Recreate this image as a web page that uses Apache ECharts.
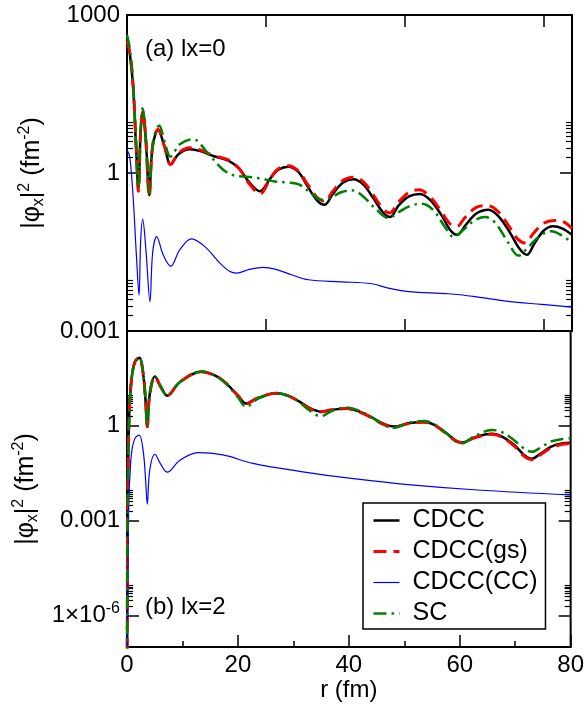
<!DOCTYPE html>
<html><head><meta charset="utf-8">
<script src="https://cdn.jsdelivr.net/npm/echarts@6/dist/echarts.min.js"></script>
<style>html,body{margin:0;padding:0;background:#fff}#c{width:587px;height:709px}</style>
</head><body><div id="c"></div>
<script>
// ---------- data (r in fm, |phi_x|^2 in fm^-2) ----------
const seriesNames = ['CDCC', 'CDCC(gs)', 'CDCC(CC)', 'SC'];
const panelLabels = ['(a) lx=0', '(b) lx=2'];

// panel (a) lx=0
const a_CDCC = [[0,330],[0.5,186],[1.1,44],[1.6,3.7],[2.05,0.5],[2.45,6],[2.85,14.7],[3.4,4],[4.0,0.38],[4.6,3.2],[5.6,6.6],[6.7,3.3],[7.85,1.47],[9.3,2.3],[11.3,2.83],[13.2,2.6],[15.5,2.1],[18.3,1.7],[20.2,1.2],[21.8,0.7],[23.9,0.45],[25.8,0.8],[27.2,1.15],[29.0,1.32],[30.8,1.05],[32.5,0.55],[34.2,0.3],[35.5,0.25],[37,0.4],[38.8,0.65],[40.7,0.76],[42.5,0.6],[44.3,0.33],[46,0.18],[47.3,0.146],[48.8,0.24],[50.7,0.36],[52.7,0.40],[54.6,0.3],[56.5,0.16],[58.2,0.08],[59.4,0.067],[60.8,0.1],[62.8,0.17],[65.0,0.20],[66.8,0.15],[68.8,0.075],[70.6,0.036],[71.9,0.028],[73.2,0.045],[74.9,0.08],[76.6,0.097],[78.3,0.088],[80,0.067]];
const a_CDCCgs = [[0,330],[0.5,190],[1.1,46],[1.6,3.9],[2.05,0.45],[2.45,6],[2.85,15],[3.4,4],[4.0,0.36],[4.6,3.2],[5.6,6.8],[6.7,3.3],[7.85,1.45],[9.3,2.4],[11.3,3.0],[13.2,2.75],[15.5,2.15],[18.3,1.75],[20.2,1.2],[21.8,0.66],[23.9,0.40],[25.8,0.8],[27.2,1.2],[29.0,1.38],[30.8,1.1],[32.5,0.6],[34.2,0.34],[35.5,0.29],[37,0.45],[38.8,0.72],[40.7,0.83],[42.5,0.68],[44.3,0.38],[46,0.21],[47.2,0.174],[48.8,0.28],[50.7,0.43],[52.5,0.48],[54.4,0.36],[56.3,0.2],[58,0.11],[59.3,0.097],[60.7,0.14],[62.7,0.22],[64.8,0.24],[66.6,0.19],[68.6,0.1],[70.3,0.055],[71.6,0.047],[73,0.07],[74.8,0.11],[76.8,0.126],[78.5,0.118],[80,0.089]];
const a_CDCCcc = [[0,2.8],[0.5,2.0],[1.1,0.35],[1.7,0.026],[2.16,0.0048],[2.45,0.05],[2.82,0.133],[3.4,0.035],[4.13,0.0036],[4.6,0.03],[5.33,0.062],[6.5,0.028],[7.85,0.017],[9.5,0.035],[11.6,0.056],[14,0.04],[16.7,0.0195],[18.5,0.0135],[19.7,0.0126],[22,0.0148],[24.5,0.0162],[26.6,0.0150],[29.6,0.0117],[32.6,0.0094],[38.6,0.0086],[44,0.0079],[47,0.0065],[50.6,0.0056],[57.8,0.0051],[62.6,0.0045],[68.5,0.00365],[74.5,0.0032],[80,0.00285]];
const a_SC = [[0,420],[0.5,230],[1.1,52],[1.6,4.2],[2.05,0.55],[2.45,7],[2.8,17],[3.4,4.5],[4.0,0.42],[4.7,4],[5.8,8],[6.8,3.8],[7.8,2.05],[9.5,3.5],[11.9,4.4],[14.5,2.4],[17.3,1.15],[19.4,0.89],[21.5,0.85],[23.9,0.79],[26.6,0.69],[29,0.66],[31,0.6],[33,0.42],[35.0,0.31],[36.6,0.34],[38.5,0.43],[40.4,0.47],[42.2,0.38],[44.5,0.22],[47.0,0.139],[48.8,0.18],[51,0.24],[53.0,0.26],[55,0.2],[57,0.1],[58.7,0.061],[60.3,0.08],[62.4,0.125],[64.4,0.146],[66.3,0.11],[68.4,0.05],[70.4,0.027],[72.2,0.04],[74.3,0.065],[76.3,0.078],[78.2,0.065],[80,0.048]];

// panel (b) lx=2
const b_CDCC = [[0,1e-9],[0.1,0.0005],[0.2,0.04],[0.42,2.8],[0.84,32],[1.44,107],[2.22,143],[2.94,41],[3.35,6],[3.66,0.93],[4.1,10],[5.03,36],[6.1,17],[7.25,9],[9.5,24],[13.4,51],[16,38],[17.9,22],[20,9],[21.5,5.1],[23.5,7.5],[26.9,10.7],[29,9],[31.1,5.8],[33,3.6],[34.9,2.8],[37,3.2],[39.5,3.55],[41.5,3],[44,1.9],[46.3,1.15],[48.2,0.95],[50.8,1.2],[53.6,1.32],[55.5,1.05],[57.5,0.6],[59.3,0.34],[60.5,0.295],[62.5,0.42],[65.8,0.56],[67.7,0.45],[69.8,0.25],[71.6,0.12],[73,0.091],[74.5,0.13],[76.5,0.22],[78.5,0.28],[80,0.29]];
const b_CDCCgs = [[0,1e-9],[0.1,0.0005],[0.2,0.04],[0.42,2.8],[0.84,32],[1.44,107],[2.22,143],[2.94,41],[3.35,6],[3.66,0.93],[4.1,10],[5.03,36],[6.1,17],[7.25,9],[9.5,24],[13.4,51],[16,38],[17.9,22],[20,9],[21.5,5.0],[23.5,7.5],[26.9,10.7],[29,9],[31.1,5.8],[33,3.5],[34.9,2.75],[37,3.2],[39.5,3.5],[41.5,2.9],[44,1.85],[46.3,1.1],[48.2,0.93],[50.8,1.18],[53.6,1.3],[55.5,1.02],[57.5,0.58],[59.3,0.33],[60.5,0.29],[62.5,0.41],[65.8,0.54],[67.7,0.43],[69.8,0.23],[71.6,0.11],[73,0.085],[74.5,0.12],[76.5,0.2],[78.5,0.26],[80,0.27]];
const b_CDCCcc = [[0,1e-9],[0.1,1e-6],[0.3,0.003],[0.54,0.028],[0.84,0.15],[1.44,0.40],[2.22,0.51],[2.94,0.15],[3.35,0.02],[3.66,0.0033],[4.1,0.04],[5.03,0.126],[6.1,0.06],[7.25,0.034],[9.5,0.08],[12.8,0.141],[17.3,0.12],[22.7,0.065],[31.7,0.035],[40.1,0.022],[51.2,0.0135],[63.2,0.0093],[80,0.0065]];
const b_SC = [[0,1e-9],[0.1,0.0005],[0.2,0.04],[0.42,2.8],[0.84,32],[1.44,107],[2.22,143],[2.94,41],[3.35,6],[3.66,0.93],[4.1,10],[5.03,36],[6.1,17],[7.25,9],[9.5,24],[13.4,52],[16,38],[17.9,21],[20,8],[21.5,4.0],[23.5,7],[26.9,10.8],[29,9],[31.1,5.5],[33,3],[34.9,2.0],[37,3.0],[39.5,3.8],[41.5,3.2],[44,1.9],[46.3,1.05],[48.2,0.87],[50.8,1.25],[53.6,1.41],[55.5,1.1],[57.5,0.6],[59.3,0.32],[60.5,0.28],[62.5,0.45],[65.8,0.74],[67.7,0.62],[69.8,0.35],[71.6,0.19],[73,0.15],[74.5,0.2],[76.5,0.32],[78.5,0.38],[80,0.40]];

// axes / ticks
const xRange = [0, 80];
const aYRange = [0.001, 1000];
const bYRange = [1e-7, 1000];
const aMajorExp = [-3, 0, 3];
const aMajorLabels = ['0.001', '1', '1000'];
const bMajorExp = [-6, -3, 0, 3];
const bMajorLabels = ['1×10{sup|-6}', '0.001', '1', ''];
const minorFactors = [2, 3, 4, 5, 6, 7, 8, 9];

// ---------- chart ----------
const FONT = 'Liberation Sans, Arial, Helvetica, sans-serif';
const minorExp = majors => majors.flatMap(m => minorFactors.map(k => m + Math.log10(k)));
const lg = Math.log10;

const chart = echarts.init(document.getElementById('c'), null, {renderer: 'canvas'});

const tickStyle = {color: '#000', width: 1.5};
const grids = [
  {left: 127, top: 15, width: 445, height: 316, show: true, borderColor: '#000', borderWidth: 2, backgroundColor: 'transparent'},
  {left: 127, top: 331, width: 445, height: 316, show: true, borderColor: '#000', borderWidth: 2, backgroundColor: 'transparent'}
];

function xAx(grid, pos, interval, showLabel, extra) {
  return Object.assign({
    type: 'value', gridIndex: grid, position: pos, min: xRange[0], max: xRange[1], interval: interval,
    axisLine: {show: false, onZero: false}, splitLine: {show: false},
    axisTick: {show: true, inside: true, length: 12, lineStyle: tickStyle},
    axisLabel: {show: showLabel, fontSize: 24, fontFamily: FONT, color: '#000', margin: 6, showMinLabel: true, showMaxLabel: true}
  }, extra || {});
}
const nameRich = {
  sub: {fontSize: 16, fontFamily: FONT, color: '#000', verticalAlign: 'bottom'},
  sup: {fontSize: 16, fontFamily: FONT, color: '#000', verticalAlign: 'top'}
};
// hidden log axis that carries the data
function yData(grid, range) {
  return {
    type: 'log', logBase: 10, gridIndex: grid, position: 'left', min: range[0], max: range[1],
    axisLine: {show: false, onZero: false}, splitLine: {show: false}, axisTick: {show: false}, axisLabel: {show: false}
  };
}
// decade-exponent axes for ticks and labels
function yMajor(grid, pos, range, majors, labels) {
  const o = {
    type: 'value', gridIndex: grid, position: pos, min: lg(range[0]), max: lg(range[1]),
    axisLine: {show: false, onZero: false}, splitLine: {show: false},
    axisTick: {show: true, inside: true, length: 12, lineStyle: tickStyle, customValues: majors},
    axisLabel: {show: !!labels, customValues: majors, fontSize: 24, fontFamily: FONT, color: '#000', margin: 7,
      lineHeight: 30, rich: {sup: {fontSize: 16, fontFamily: FONT, color: '#000', verticalAlign: 'top'}},
      formatter: v => { const i = majors.findIndex(m => Math.abs(m - v) < 1e-6); return (labels && i >= 0) ? labels[i] : ''; }
    }
  };
  if (labels) {
    Object.assign(o, {
      name: '|φ{sub|x}|{sup|2} (fm{sup|-2})', nameLocation: 'middle', nameRotate: 90, nameGap: 80,
      nameTextStyle: {fontSize: 25, fontFamily: FONT, color: '#000', lineHeight: 30, rich: nameRich}
    });
  }
  return o;
}
function yMinor(grid, pos, range, majors) {
  return {
    type: 'value', gridIndex: grid, position: pos, min: lg(range[0]), max: lg(range[1]),
    axisLine: {show: false, onZero: false}, splitLine: {show: false}, axisLabel: {show: false},
    axisTick: {show: true, inside: true, length: 6, lineStyle: {color: '#000', width: 1.2}, customValues: minorExp(majors)}
  };
}

const xAxis = [
  xAx(0, 'bottom', 25, false),
  xAx(0, 'top', 25, false),
  xAx(1, 'bottom', 20, true, {
    minorTick: {show: true, splitNumber: 2, length: 6, lineStyle: tickStyle},
    name: 'r (fm)', nameLocation: 'middle', nameGap: 31,
    nameTextStyle: {fontSize: 24, fontFamily: FONT, color: '#000'}
  })
];
const yAxis = [
  yData(0, aYRange),                                          // 0
  yMajor(0, 'left', aYRange, aMajorExp, aMajorLabels),        // 1
  yMajor(0, 'right', aYRange, aMajorExp, null),               // 2
  yMinor(0, 'left', aYRange, aMajorExp.slice(0, 2)),          // 3
  yMinor(0, 'right', aYRange, aMajorExp.slice(0, 2)),         // 4
  yData(1, bYRange),                                          // 5
  yMajor(1, 'left', bYRange, bMajorExp, bMajorLabels),        // 6
  yMajor(1, 'right', bYRange, bMajorExp, null),               // 7
  yMinor(1, 'left', bYRange, bMajorExp.slice(0, 3)),          // 8
  yMinor(1, 'right', bYRange, bMajorExp.slice(0, 3))          // 9
];

const styles = [
  {color: '#000000', width: 2.5, type: 'solid'},
  {color: '#ff0000', width: 3, type: [13, 7]},
  {color: '#0000ff', width: 1.2, type: 'solid'},
  {color: '#008000', width: 2.5, type: [13, 5, 2.5, 5]}
];
const panelData = [[a_CDCC, a_CDCCgs, a_CDCCcc, a_SC], [b_CDCC, b_CDCCgs, b_CDCCcc, b_SC]];
const series = [];
panelData.forEach((sets, p) => {
  sets.forEach((d, i) => {
    series.push({
      type: 'line', name: seriesNames[i], data: d,
      xAxisIndex: p === 0 ? 0 : 2, yAxisIndex: p === 0 ? 0 : 5,
      showSymbol: false, symbol: 'none', smooth: 0.35, clip: true, animation: false,
      lineStyle: {color: styles[i].color, width: styles[i].width, type: styles[i].type},
      itemStyle: {color: styles[i].color},
      emphasis: {disabled: true}, z: 2 + i
    });
  });
});

chart.setOption({
  backgroundColor: '#fff',
  animation: false,
  grid: grids,
  xAxis: xAxis,
  yAxis: yAxis,
  title: [
    {text: panelLabels[0], left: 145, top: 37, padding: 0, textStyle: {fontSize: 24, fontWeight: 'normal', fontFamily: FONT, color: '#000'}},
    {text: panelLabels[1], left: 145, top: 595, padding: 0, textStyle: {fontSize: 24, fontWeight: 'normal', fontFamily: FONT, color: '#000'}}
  ],
  legend: {
    data: seriesNames.map((n, i) => ({name: n, itemStyle: {color: 'rgba(0,0,0,0)', borderWidth: 0, opacity: 0},
      lineStyle: {color: styles[i].color, width: styles[i].width, type: styles[i].type}})),
    orient: 'vertical', left: 363, top: 503,
    itemWidth: 26, itemHeight: 14, itemGap: 6,
    padding: [5, 8, 3, 9],
    borderColor: '#000', borderWidth: 1.5, backgroundColor: '#fff',
    selectedMode: false,
    textStyle: {fontSize: 25, fontFamily: FONT, color: '#000', padding: [0, 0, 0, 8]}
  },
  series: series
});
</script></body></html>
